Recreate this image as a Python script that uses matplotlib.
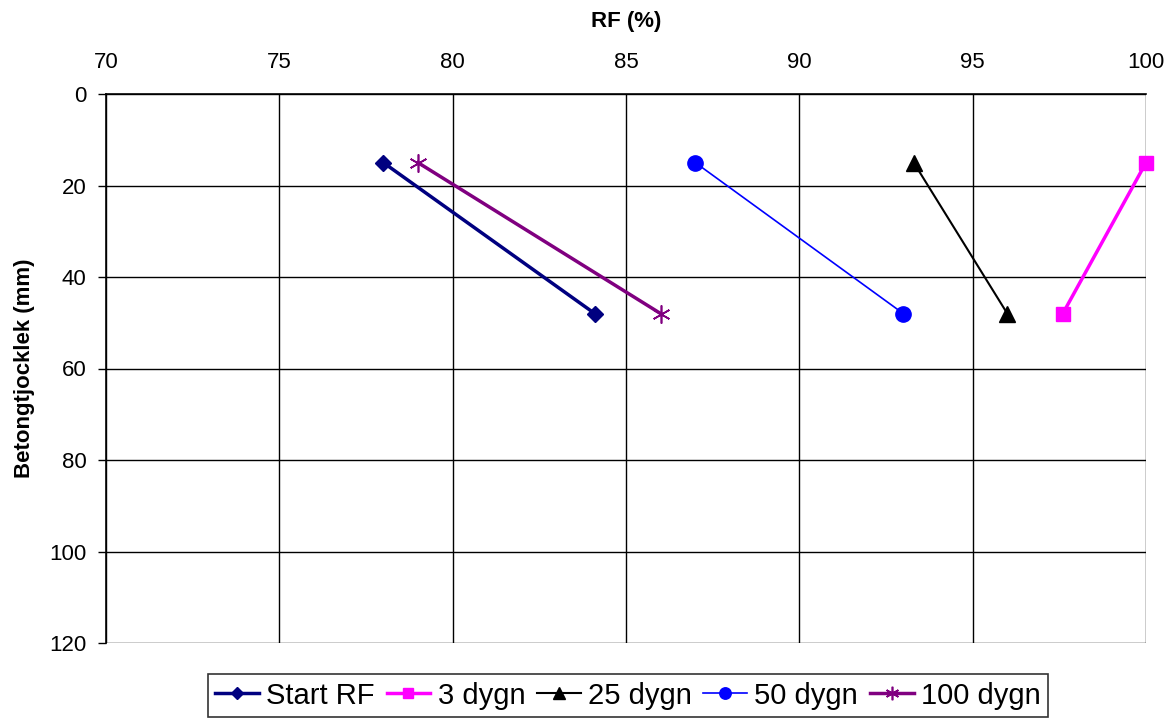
import matplotlib
matplotlib.use("Agg")
import matplotlib.pyplot as plt

plt.rcParams['font.family'] = ['Liberation Sans', 'DejaVu Sans']

depth = [15, 48]
start_rf = [78, 84.1]
dygn_3 = [100, 97.6]
dygn_25 = [93.3, 96.0]
dygn_50 = [87, 93]
dygn_100 = [79, 86]

series = [
    ("Start RF", start_rf, "#000080", "D", 2.5, 8),
    ("3 dygn", dygn_3, "#ff00ff", "s", 2.5, 10),
    ("25 dygn", dygn_25, "black", "^", 1.5, 11),
    ("50 dygn", dygn_50, "blue", "o", 1.2, 11),
    ("100 dygn", dygn_100, "#800080", "x", 2.5, 13),
]

fig = plt.figure(figsize=(11.76, 7.18), dpi=100)
ax = fig.add_axes([106 / 1176, 1 - 643 / 718, 1040 / 1176, 549 / 718])

for name, vals, col, mk, lw, ms in series:
    if mk == "x":
        ax.plot(vals, depth, color=col, lw=lw, marker=(6, 2, 0), ms=ms, mew=1.2, label=name, clip_on=False)
    else:
        ax.plot(vals, depth, color=col, lw=lw, marker=mk, ms=ms, label=name, clip_on=False)

ax.set_xlim(70, 100)
ax.set_ylim(120, 0)
ax.set_xticks(range(70, 101, 5))
ax.set_yticks(range(0, 121, 20))
ax.xaxis.tick_top()
ax.xaxis.set_label_position('top')
ax.set_xlabel("RF (%)", fontsize=16, fontweight='bold', labelpad=18)
ax.set_ylabel("Betongtjocklek (mm)", fontsize=16, fontweight='bold', labelpad=10)
ax.tick_params(labelsize=16, direction='out', length=6, width=1, color='black', pad=8)
ax.tick_params(axis='x', length=0, pad=15)
ax.grid(True, color='black', lw=1)
ax.set_axisbelow(True)
for s in ['right', 'bottom']:
    ax.spines[s].set_visible(False)
ax.spines['left'].set_linewidth(1.2)
ax.spines['top'].set_linewidth(1.2)

leg = fig.legend(loc='lower center', bbox_to_anchor=(0.534, 0.0015), ncol=5, fontsize=21,
                 frameon=True, fancybox=False, edgecolor='black', handlelength=1.5,
                 handletextpad=0.25, columnspacing=0.4, borderpad=0.25, borderaxespad=0,
                 markerscale=0.75)
leg.get_frame().set_linewidth(1.2)

fig.savefig("out.png", dpi=100)
